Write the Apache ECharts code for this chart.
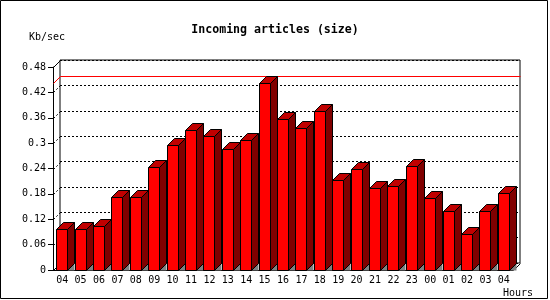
<!DOCTYPE html>
<html>
<head>
<meta charset="utf-8">
<script src="https://cdn.jsdelivr.net/npm/echarts@6/dist/echarts.min.js"></script>
<style>
  html, body { margin: 0; padding: 0; background: #fff; }
  #chart { width: 550px; height: 300px; }
</style>
</head>
<body>
<div id="chart"></div>
<script>
// data
const hours = ['04', '05', '06', '07', '08', '09', '10', '11', '12', '13', '14', '15', '16',
  '17', '18', '19', '20', '21', '22', '23', '00', '01', '02', '03', '04'];
const kbPerSec = [0.096, 0.098, 0.103, 0.173, 0.173, 0.243, 0.295, 0.330, 0.318, 0.285, 0.307, 0.441, 0.356,
  0.335, 0.376, 0.212, 0.240, 0.194, 0.199, 0.245, 0.170, 0.139, 0.085, 0.139, 0.181];
const wallTicks = [0, 0.06, 0.12, 0.18, 0.24, 0.3, 0.36, 0.42, 0.48];

const DEPTH = 7; // 3d offset in px
const FONT = '"DejaVu Sans Mono", monospace';

const chart = echarts.init(document.getElementById('chart'));

// 3d bar: shadow, side, top, front
function renderBar(params, api) {
  const top = api.coord([api.value(0), api.value(1)]);
  const base = api.coord([api.value(0), 0]);
  const cx = Math.round(top[0]);
  const l = cx - 5.5, r = cx + 5.5;
  const t = Math.round(top[1]) + 0.5, b = Math.round(base[1]) + 0.5;
  const edge = { stroke: '#000', lineWidth: 1 };
  return {
    type: 'group',
    children: [
      { type: 'polygon', shape: { points: [[r, b], [r + DEPTH, b - DEPTH], [r + DEPTH, b]] }, style: { fill: '#808080' } },
      { type: 'polygon', shape: { points: [[r, t], [r + DEPTH, t - DEPTH], [r + DEPTH, b - DEPTH], [r, b]] }, style: Object.assign({ fill: '#800000' }, edge) },
      { type: 'polygon', shape: { points: [[l, t], [l + DEPTH, t - DEPTH], [r + DEPTH, t - DEPTH], [r, t]] }, style: Object.assign({ fill: '#c00000' }, edge) },
      { type: 'rect', shape: { x: l, y: t, width: r - l, height: b - t }, style: Object.assign({ fill: '#ff0000' }, edge) }
    ]
  };
}

// left wall diagonals, floor corner and the max line
function renderFrame(params, api) {
  const band = api.size([1, 0])[0];
  const x0 = Math.round(api.coord([0, 0])[0] - band / 2) + 0.5;
  const x1 = Math.round(api.coord([hours.length - 1, 0])[0] + band / 2) + 0.5;
  const children = [];
  wallTicks.forEach((v, i) => {
    const y = Math.round(api.coord([0, v])[1]) + 0.5;
    const solid = i === 0 || i === wallTicks.length - 1;
    children.push({
      type: 'line',
      shape: { x1: x0, y1: y, x2: x0 + DEPTH, y2: y - DEPTH },
      style: { stroke: '#000', lineWidth: 1, lineDash: solid ? null : [2, 2] }
    });
  });
  const yb = Math.round(api.coord([0, 0])[1]) + 0.5;
  children.push({ type: 'line', shape: { x1: x1, y1: yb, x2: x1 + DEPTH, y2: yb - DEPTH }, style: { stroke: '#000', lineWidth: 1 } });
  const ym = Math.round(api.coord([0, Math.max(...kbPerSec)])[1]) + 0.5;
  children.push({
    type: 'polyline',
    shape: { points: [[x0, ym], [x0 + DEPTH, ym - DEPTH], [x1 + DEPTH, ym - DEPTH]] },
    style: { stroke: '#ff0000', lineWidth: 1, fill: null }
  });
  return { type: 'group', children: children };
}

const option = {
  animation: false,
  title: {
    text: 'Incoming articles (size)',
    left: 'center',
    top: 19,
    textStyle: { fontFamily: FONT, fontSize: 11.6, fontWeight: 'bold', color: '#000' }
  },
  grid: [
    { left: 53, right: 37, top: 67, bottom: 30 },
    { left: 60, right: 30, top: 60, bottom: 37, show: true, borderColor: '#000', borderWidth: 1, backgroundColor: 'transparent' }
  ],
  xAxis: [
    {
      type: 'category', gridIndex: 0, data: hours,
      axisLine: { lineStyle: { color: '#000', width: 1 } },
      axisTick: { length: 4, lineStyle: { color: '#000' } },
      axisLabel: { color: '#000', fontFamily: FONT, fontSize: 10, margin: 5, interval: 0 }
    },
    {
      type: 'category', gridIndex: 1, data: hours,
      axisLine: { show: false }, axisTick: { show: false }, axisLabel: { show: false }
    }
  ],
  yAxis: [
    {
      type: 'value', gridIndex: 0, min: 0, max: 0.48, interval: 0.06,
      axisLine: { show: true, lineStyle: { color: '#000', width: 1 } },
      axisTick: { show: true, length: 5, lineStyle: { color: '#000' } },
      axisLabel: { color: '#000', fontFamily: FONT, fontSize: 10, margin: 7 },
      splitLine: { show: false }
    },
    {
      type: 'value', gridIndex: 1, min: 0, max: 0.48, interval: 0.06,
      axisLine: { show: false }, axisTick: { show: false }, axisLabel: { show: false },
      splitLine: { show: true, lineStyle: { color: '#000', width: 1, type: [2, 2] } }
    }
  ],
  series: [
    {
      name: 'frame', type: 'custom', xAxisIndex: 0, yAxisIndex: 0, z: 1, silent: true,
      data: [[0, 0]], renderItem: renderFrame
    },
    {
      name: 'Kb/sec', type: 'custom', xAxisIndex: 0, yAxisIndex: 0, z: 3,
      data: kbPerSec.map((v, i) => [i, v]),
      encode: { x: 0, y: 1 },
      renderItem: renderBar
    }
  ],
  graphic: [
    { type: 'rect', shape: { x: 0.5, y: 0.5, width: 547, height: 298 }, style: { fill: null, stroke: '#000', lineWidth: 1 }, silent: true },
    { type: 'text', x: 29, y: 37, style: { text: 'Kb/sec', fill: '#000', font: '10px ' + FONT, verticalAlign: 'middle' } },
    { type: 'text', x: 533, y: 293, style: { text: 'Hours', fill: '#000', font: '10px ' + FONT, align: 'right', verticalAlign: 'middle' } }
  ]
};

chart.setOption(option);
window.addEventListener('resize', () => chart.resize());
</script>
</body>
</html>
